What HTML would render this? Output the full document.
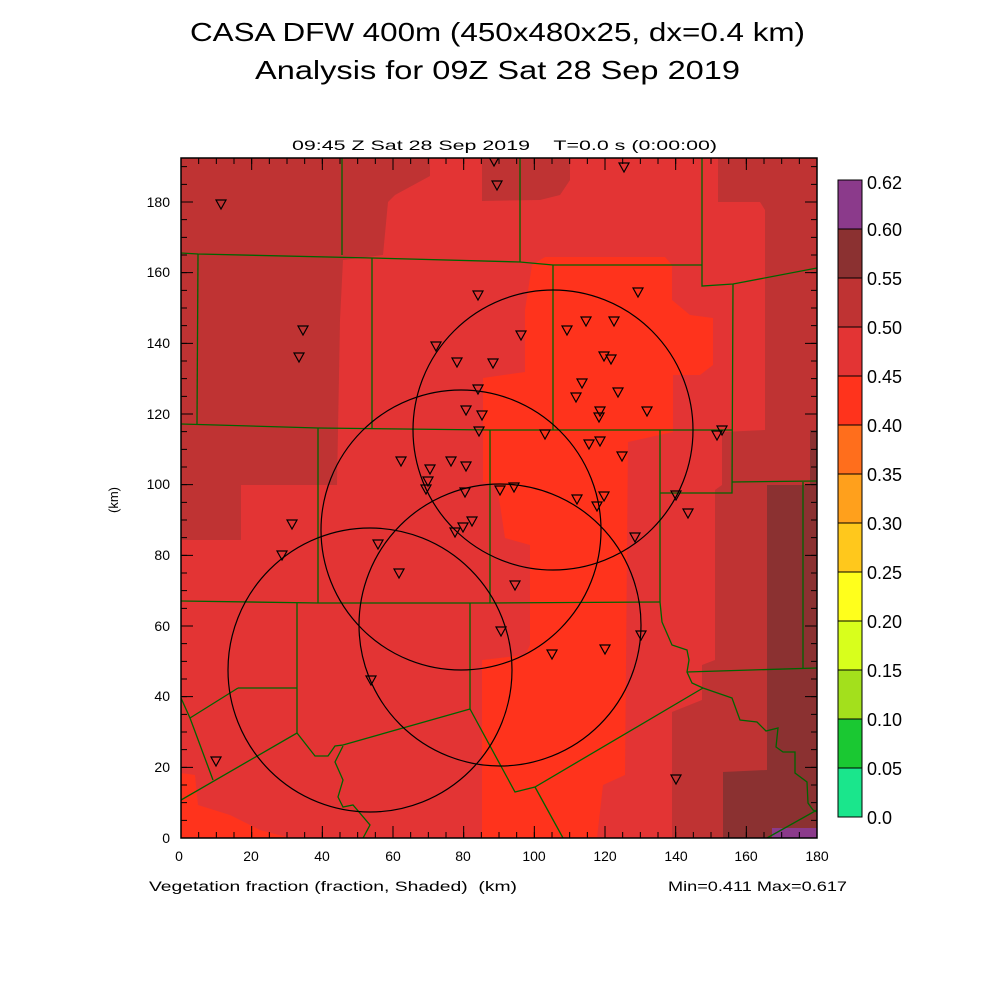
<!DOCTYPE html>
<html><head><meta charset="utf-8"><style>
html,body{margin:0;padding:0;background:#fff}
svg{display:block}
text{font-family:"Liberation Sans","DejaVu Sans",sans-serif;fill:#000}
</style></head><body>
<svg width="1000" height="1000" viewBox="0 0 1000 1000" xmlns="http://www.w3.org/2000/svg">
<defs>
<clipPath id="pc"><rect x="181" y="158" width="636" height="680"/></clipPath>
<path id="tri" d="M-5,-4 L5,-4 L0,5 Z" fill="none" stroke="#000" stroke-width="1.2"/>
</defs>
<text x="190" y="41" font-size="26" textLength="615" lengthAdjust="spacingAndGlyphs">CASA DFW 400m (450x480x25, dx=0.4 km)</text>
<text x="255" y="79" font-size="26" textLength="485" lengthAdjust="spacingAndGlyphs">Analysis for 09Z Sat 28 Sep 2019</text>
<text x="292" y="150" font-size="14" xml:space="preserve" textLength="425" lengthAdjust="spacingAndGlyphs">09:45 Z Sat 28 Sep 2019    T=0.0 s (0:00:00)</text>
<g clip-path="url(#pc)">
<rect x="181" y="158" width="636" height="680" fill="#e33434"/>
<path d="M181,158 L430,158 L430,176 L395,195 L388,202 L383,255 L343,260 L340,320 L337,485 L241,485 L241,540 L181,540 Z" fill="#bf3333"/>
<path d="M482,158 L570,158 L570,180 L560,195 L540,200 L482,201 Z" fill="#bf3333"/>
<path d="M718,158 L817,158 L817,838 L672,838 L672,712 L702,700 L702,665 L715,660 L715,490 L722,485 L722,432 L765,430 L765,210 L760,202 L718,202 Z" fill="#bf3333"/>
<path d="M810,430 L817,430 L817,838 L723,838 L723,772 L767,770 L767,485 L810,485 Z" fill="#8b3131"/>
<rect x="772" y="828" width="45" height="10" fill="#8b3a8b"/>
<path d="M532,265 L545,257 L665,257 L672,265 L672,300 L690,315 L713,318 L713,365 L700,375 L673,375 L673,432 L628,442 L625,775 L603,785 L597,838 L482,838 L482,660 L525,655 L530,645 L530,545 L505,538 L497,485 L483,482 L483,378 L525,372 L525,310 Z" fill="#ff331c"/>
<path d="M181,773 L195,775 L198,805 L230,815 L260,830 L290,838 L181,838 Z" fill="#ff331c"/>
<g fill="none" stroke="#006400" stroke-width="1.3">
<path d="M342,158 L342,255"/>
<path d="M520,158 L520,262"/>
<path d="M181,253 L198,254 L372,258 L520,262 L553,265 L702,265"/>
<path d="M702,158 L702,286 L733,284 L817,268"/>
<path d="M198,254 L197,424"/>
<path d="M372,258 L372,428"/>
<path d="M553,265 L553,430"/>
<path d="M733,284 L732,493 L660,493"/>
<path d="M732,482 L817,481"/>
<path d="M803,482 L803,668"/>
<path d="M181,424 L318,428 L490,430 L732,430"/>
<path d="M490,430 L490,603"/>
<path d="M318,428 L318,603"/>
<path d="M660,430 L660,602"/>
<path d="M181,601 L318,603 L490,603 L660,602"/>
<path d="M660,602 L662,622 L672,645 L687,650 L689,660 L687,672 L692,683 L703,688 L732,698 L740,720 L757,722 L766,731 L778,728 L776,747 L783,752 L795,752 L795,773 L807,782 L808,803 L813,810 L817,812"/>
<path d="M687,672 L817,668"/>
<path d="M703,688 L535,787 L515,792 L470,709 L343,745 L335,746 L328,756 L315,756 L297,733 L181,800"/>
<path d="M535,787 L563,838"/>
<path d="M470,603 L470,709"/>
<path d="M297,603 L297,733"/>
<path d="M238,688 L297,688"/>
<path d="M238,688 L190,718"/>
<path d="M181,698 L190,718 L213,780"/>
<path d="M343,746 L335,762 L343,780 L338,797 L343,807 L353,805 L370,825 L362,840"/>
<path d="M817,810 L767,838"/>
</g>
<g fill="none" stroke="#000" stroke-width="1.2">
<circle cx="553" cy="430" r="140"/>
<circle cx="461" cy="530" r="140"/>
<circle cx="370" cy="670" r="142"/>
<circle cx="500" cy="625" r="141"/>
</g>
<g>
<use href="#tri" x="221" y="204"/><use href="#tri" x="494" y="161"/><use href="#tri" x="497" y="185"/><use href="#tri" x="624" y="167"/>
<use href="#tri" x="303" y="330"/><use href="#tri" x="299" y="357"/><use href="#tri" x="478" y="295"/><use href="#tri" x="638" y="292"/>
<use href="#tri" x="614" y="321"/><use href="#tri" x="586" y="321"/><use href="#tri" x="567" y="330"/><use href="#tri" x="521" y="335"/>
<use href="#tri" x="436" y="346"/><use href="#tri" x="457" y="362"/><use href="#tri" x="493" y="363"/><use href="#tri" x="604" y="356"/>
<use href="#tri" x="611" y="359"/><use href="#tri" x="582" y="383"/><use href="#tri" x="576" y="397"/><use href="#tri" x="478" y="389"/>
<use href="#tri" x="618" y="392"/><use href="#tri" x="647" y="411"/><use href="#tri" x="466" y="410"/><use href="#tri" x="482" y="415"/>
<use href="#tri" x="600" y="411"/><use href="#tri" x="599" y="417"/><use href="#tri" x="479" y="431"/><use href="#tri" x="545" y="434"/>
<use href="#tri" x="589" y="444"/><use href="#tri" x="600" y="441"/><use href="#tri" x="622" y="456"/><use href="#tri" x="717" y="435"/>
<use href="#tri" x="722" y="430"/><use href="#tri" x="401" y="461"/><use href="#tri" x="430" y="469"/><use href="#tri" x="451" y="461"/>
<use href="#tri" x="466" y="466"/><use href="#tri" x="428" y="481"/><use href="#tri" x="426" y="489"/><use href="#tri" x="465" y="492"/>
<use href="#tri" x="500" y="490"/><use href="#tri" x="514" y="487"/><use href="#tri" x="577" y="499"/><use href="#tri" x="604" y="496"/>
<use href="#tri" x="597" y="506"/><use href="#tri" x="676" y="495"/><use href="#tri" x="688" y="513"/><use href="#tri" x="292" y="524"/>
<use href="#tri" x="282" y="555"/><use href="#tri" x="472" y="521"/><use href="#tri" x="463" y="527"/><use href="#tri" x="455" y="532"/>
<use href="#tri" x="378" y="544"/><use href="#tri" x="399" y="573"/><use href="#tri" x="515" y="585"/><use href="#tri" x="635" y="537"/>
<use href="#tri" x="501" y="631"/><use href="#tri" x="641" y="635"/><use href="#tri" x="552" y="654"/><use href="#tri" x="605" y="649"/>
<use href="#tri" x="371" y="680"/><use href="#tri" x="216" y="761"/><use href="#tri" x="676" y="779"/>
</g>
</g>
<rect x="181" y="158" width="636" height="680" fill="none" stroke="#000" stroke-width="1.5"/>
<g stroke="#000" stroke-width="1">
<line x1="180.5" y1="835" x2="818" y2="835" stroke-width="6" stroke-dasharray="1 16.667"/>
<line x1="180.5" y1="832" x2="818" y2="832" stroke-width="12" stroke-dasharray="1 69.667"/>
<line x1="180.5" y1="161" x2="818" y2="161" stroke-width="6" stroke-dasharray="1 16.667"/>
<line x1="180.5" y1="164" x2="818" y2="164" stroke-width="12" stroke-dasharray="1 69.667"/>
<line x1="184" y1="838.5" x2="184" y2="158" stroke-width="6" stroke-dasharray="1 16.667"/>
<line x1="187" y1="838.5" x2="187" y2="158" stroke-width="12" stroke-dasharray="1 69.667"/>
<line x1="814" y1="838.5" x2="814" y2="158" stroke-width="6" stroke-dasharray="1 16.667"/>
<line x1="811" y1="838.5" x2="811" y2="158" stroke-width="12" stroke-dasharray="1 69.667"/>
</g>
<g font-size="14" text-anchor="end">
<text x="170" y="843">0</text><text x="170" y="772">20</text><text x="170" y="701">40</text><text x="170" y="631">60</text>
<text x="170" y="560">80</text><text x="170" y="489">100</text><text x="170" y="419">120</text><text x="170" y="348">140</text>
<text x="170" y="277">160</text><text x="170" y="207">180</text>
</g>
<g font-size="14" text-anchor="middle">
<text x="179" y="861">0</text><text x="251" y="861">20</text><text x="322" y="861">40</text><text x="393" y="861">60</text>
<text x="463" y="861">80</text><text x="534" y="861">100</text><text x="605" y="861">120</text><text x="676" y="861">140</text>
<text x="746" y="861">160</text><text x="817" y="861">180</text>
</g>
<text x="118" y="500" font-size="13" text-anchor="middle" transform="rotate(-90 118 500)">(km)</text>
<text x="149" y="891" font-size="14" xml:space="preserve" textLength="368" lengthAdjust="spacingAndGlyphs">Vegetation fraction (fraction, Shaded)  (km)</text>
<text x="668" y="891" font-size="14" textLength="179" lengthAdjust="spacingAndGlyphs">Min=0.411 Max=0.617</text>
<g stroke="#000" stroke-width="1">
<rect x="838" y="180" width="24" height="49" fill="#8b3a8b"/>
<rect x="838" y="229" width="24" height="49" fill="#8b3131"/>
<rect x="838" y="278" width="24" height="49" fill="#bf3333"/>
<rect x="838" y="327" width="24" height="49" fill="#e33434"/>
<rect x="838" y="376" width="24" height="49" fill="#ff331c"/>
<rect x="838" y="425" width="24" height="49" fill="#ff6e1c"/>
<rect x="838" y="474" width="24" height="49" fill="#ffa01c"/>
<rect x="838" y="523" width="24" height="49" fill="#ffc81c"/>
<rect x="838" y="572" width="24" height="49" fill="#ffff1c"/>
<rect x="838" y="621" width="24" height="49" fill="#d8ff1c"/>
<rect x="838" y="670" width="24" height="49" fill="#a3e01c"/>
<rect x="838" y="719" width="24" height="49" fill="#1ac832"/>
<rect x="838" y="768" width="24" height="49" fill="#1ae68c"/>
</g>
<g font-size="18">
<text x="867" y="189">0.62</text><text x="867" y="236">0.60</text><text x="867" y="285">0.55</text><text x="867" y="334">0.50</text>
<text x="867" y="383">0.45</text><text x="867" y="432">0.40</text><text x="867" y="481">0.35</text><text x="867" y="530">0.30</text>
<text x="867" y="579">0.25</text><text x="867" y="628">0.20</text><text x="867" y="677">0.15</text><text x="867" y="726">0.10</text>
<text x="867" y="775">0.05</text><text x="867" y="824">0.0</text>
</g>
</svg>
</body></html>
